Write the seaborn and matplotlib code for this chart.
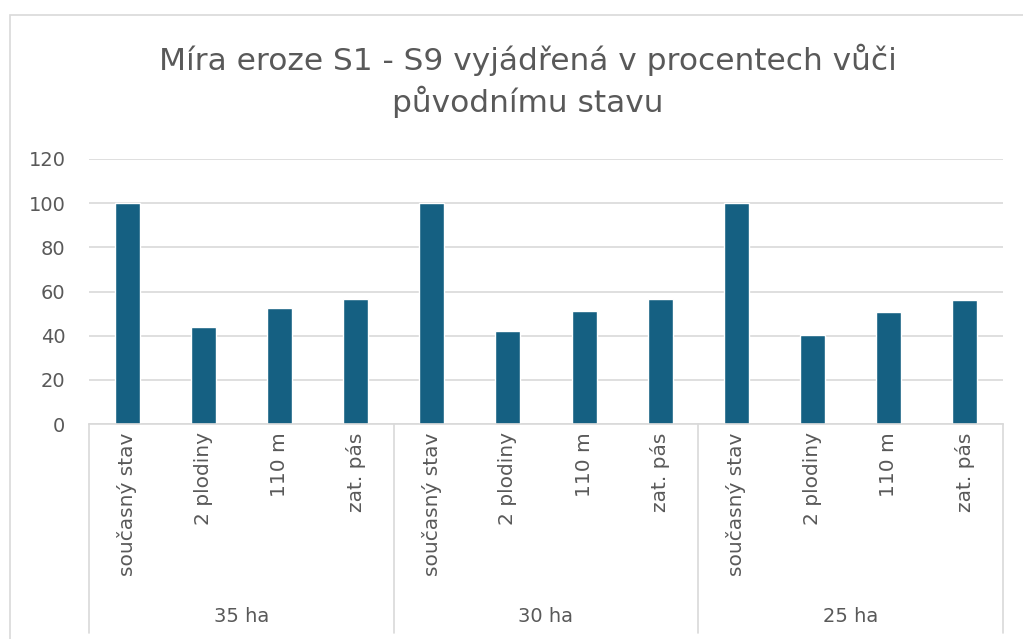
import numpy as np
import pandas as pd
import matplotlib
matplotlib.use('Agg')
import matplotlib.pyplot as plt
import matplotlib.transforms as mtransforms
from matplotlib.patches import Rectangle
import seaborn as sns

# data
groups = ['35 ha', '30 ha', '25 ha']
variants = ['současný stav', '2 plodiny', '110 m', 'zat. pás']
values_35 = [100, 43.9, 52.7, 56.7]
values_30 = [100, 42.1, 51.2, 56.4]
values_25 = [100, 40.4, 50.5, 56.1]

df = pd.DataFrame({
    'group': np.repeat(groups, len(variants)),
    'variant': variants * len(groups),
    'value': values_35 + values_30 + values_25,
})
df['key'] = df['group'] + '|' + df['variant']

sns.set_theme(style='white')
plt.rcParams['font.family'] = ['DejaVu Sans']
grey_text = '#595959'
grid_col = '#D9D9D9'
bar_col = '#156082'

fig = plt.figure(figsize=(10.23, 6.39), dpi=100)
ax = fig.add_axes([89/1023, 1-424/639, (1003-89)/1023, (424-159)/639])

sns.barplot(data=df, x='key', y='value', order=df['key'], color=bar_col,
            width=0.33, saturation=1, ax=ax)

ax.set_ylim(0, 120)
ax.set_xlim(-0.5, len(df)-0.5)
ax.set_yticks(range(0, 121, 20))
ax.yaxis.grid(True, color=grid_col, lw=1.2)
ax.set_axisbelow(True)
for s in ['top', 'right', 'left']:
    ax.spines[s].set_visible(False)
ax.spines['bottom'].set_color(grid_col)
ax.spines['bottom'].set_linewidth(1.2)
ax.tick_params(axis='y', length=0, pad=17, labelsize=14, labelcolor=grey_text)
ax.tick_params(axis='x', length=0, pad=6, labelsize=14.5, labelcolor=grey_text)
ax.set_xticks(range(len(df)))
ax.set_xticklabels(df['variant'], rotation=90, va='top', ha='center')
ax.set_xlabel(None)
ax.set_ylabel(None)

# group separators and labels under the axis
trans = mtransforms.blended_transform_factory(ax.transData, ax.transAxes)
y_bot = (424-633)/265
for xpos in np.arange(-0.5, len(df), len(variants)):
    ax.plot([xpos, xpos], [0, y_bot], color=grid_col, lw=1.2,
            transform=trans, clip_on=False)
for i, g in enumerate(groups):
    ax.text(i*len(variants) + (len(variants)-1)/2, (424-617)/265, g,
            transform=trans, ha='center', va='center', fontsize=14,
            color=grey_text)

fig.text(528/1023, 1-81/639,
         'Míra eroze S1 - S9 vyjádřená v procentech vůči\npůvodnímu stavu',
         ha='center', va='center', fontsize=22.5, color=grey_text, linespacing=1.35)

# chart border
fig.patches.append(Rectangle((10/1023, -0.1), 1.2, 1.1-15/639, transform=fig.transFigure,
                             fill=False, edgecolor=grid_col, lw=1.2))

plt.savefig('out.png', dpi=100)
